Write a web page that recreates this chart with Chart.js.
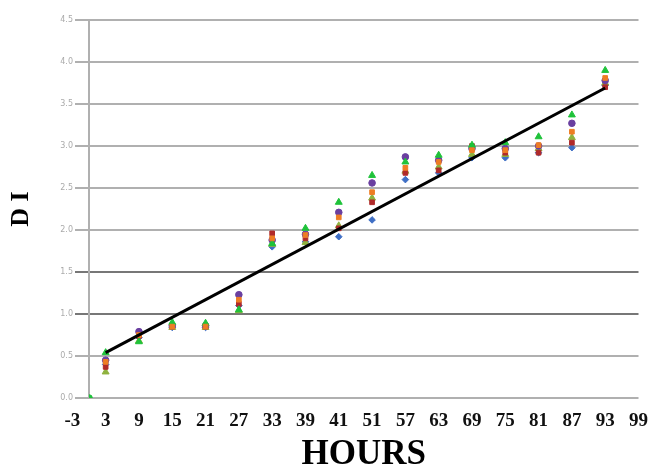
<!DOCTYPE html>
<html>
<head>
<meta charset="utf-8">
<script src="https://cdn.jsdelivr.net/npm/chart.js@4.4.1/dist/chart.umd.min.js"></script>
<style>
  html, body { margin: 0; padding: 0; background: #fff; }
  #wrap { width: 660px; height: 465px; position: relative; }
</style>
</head>
<body>
<div id="wrap"><canvas id="chart"></canvas></div>
<script>
// hours on the x axis and the labels shown under it
const hours = [3, 9, 15, 21, 27, 33, 39, 45, 51, 57, 63, 69, 75, 81, 87, 93];
const xTickValues = [-3, 3, 9, 15, 21, 27, 33, 39, 45, 51, 57, 63, 69, 75, 81, 87, 93, 99];
const xTickLabels = ["-3", "3", "9", "15", "21", "27", "33", "39", "41", "51", "57", "63", "69", "75", "81", "87", "93", "99"];

// DI readings per series
const blueDI   = [0.40, 0.72, 0.84, 0.84, 1.10, 1.80, 1.86, 1.92, 2.12, 2.60, 2.68, 2.86, 2.86, 2.92, 2.98, 3.72];
const redDI    = [0.37, 0.74, 0.85, 0.85, 1.12, 1.96, 1.90, 2.02, 2.33, 2.68, 2.71, 3.00, 2.92, 2.92, 3.04, 3.70];
const greenDI  = [0.54, 0.67, 0.90, 0.89, 1.05, 1.84, 2.02, 2.33, 2.65, 2.81, 2.89, 3.01, 3.04, 3.11, 3.37, 3.90];
const purpleDI = [0.45, 0.79, 0.86, 0.86, 1.23, 1.88, 1.95, 2.21, 2.56, 2.87, 2.83, 2.97, 2.97, 3.00, 3.27, 3.78];
const oliveDI  = [0.31, 0.68, 0.84, 0.84, 1.04, 1.83, 1.85, 2.05, 2.38, 2.70, 2.75, 2.90, 2.90, 2.97, 3.10, 3.75];
const orangeDI = [0.43, 0.75, 0.85, 0.85, 1.17, 1.90, 1.94, 2.15, 2.45, 2.74, 2.81, 2.95, 2.95, 3.01, 3.17, 3.81];

// origin point and trend line ends
const originPoint = [0, 0];
const trendX = [3, 93];
const trendY = [0.54, 3.69];

const pts = (ys) => hours.map((h, i) => ({ x: h, y: ys[i] }));

const serif = "'Liberation Serif', 'Times New Roman', serif";

function series(data, color, style) {
  return {
    data: data,
    pointStyle: style,
    pointRadius: style === "triangle" ? 4 : 3.3,
    backgroundColor: color,
    borderColor: color,
    borderWidth: 1,
    showLine: false
  };
}

new Chart(document.getElementById("chart"), {
  type: "scatter",
  data: {
    datasets: [
      {
        data: trendX.map((x, i) => ({ x: x, y: trendY[i] })),
        showLine: true,
        borderColor: "#000",
        borderWidth: 3,
        pointRadius: 0
      },
      series(pts(orangeDI), "#ee7d24", "rect"),
      series(pts(greenDI), "#1fc23a", "triangle"),
      series(pts(purpleDI), "#6a3fa0", "circle"),
      series(pts(redDI), "#b02a2a", "rect"),
      series(pts(oliveDI), "#8fb23e", "triangle"),
      series(pts(blueDI), "#3f6fc5", "rectRot"),
      series([{ x: originPoint[0], y: originPoint[1] }], "#1fc23a", "circle")
    ]
  },
  options: {
    responsive: true,
    maintainAspectRatio: false,
    animation: false,
    layout: { padding: { top: 20, right: 17, bottom: 0, left: 0 } },
    plugins: { legend: { display: false }, tooltip: { enabled: false } },
    scales: {
      x: {
        type: "linear",
        min: 0,
        max: 99,
        afterBuildTicks: (scale) => {
          scale.ticks = xTickValues.map((v) => ({ value: v }));
        },
        afterFit: (scale) => { scale.height = 67; },
        grid: { display: false, drawTicks: false },
        border: { display: false },
        ticks: {
          autoSkip: false,
          maxRotation: 0,
          padding: 12,
          color: "#111",
          font: { family: serif, size: 19, weight: "bold" },
          callback: (v, i) => xTickLabels[i]
        },
        title: {
          display: true,
          text: "HOURS",
          color: "#000",
          padding: 0,
          font: { family: serif, size: 35, weight: "bold", lineHeight: 0.6 }
        }
      },
      y: {
        min: 0,
        max: 4.5,
        afterFit: (scale) => { scale.width = 89; },
        ticks: {
          stepSize: 0.5,
          padding: 2,
          color: "#aaa",
          font: { family: "'DejaVu Sans', sans-serif", size: 8 },
          callback: (v) => v.toFixed(1)
        },
        grid: {
          color: (ctx) => (ctx.tick && (ctx.tick.value === 1 || ctx.tick.value === 1.5)) ? "#777" : "#b0b0b0",
          lineWidth: 2,
          tickLength: 14
        },
        border: { display: true, color: "#b0b0b0", width: 2 },
        title: {
          display: true,
          text: "D I",
          color: "#000",
          padding: { top: 6, bottom: 0 },
          font: { family: serif, size: 26, weight: "bold" }
        }
      }
    }
  }
});
</script>
</body>
</html>
